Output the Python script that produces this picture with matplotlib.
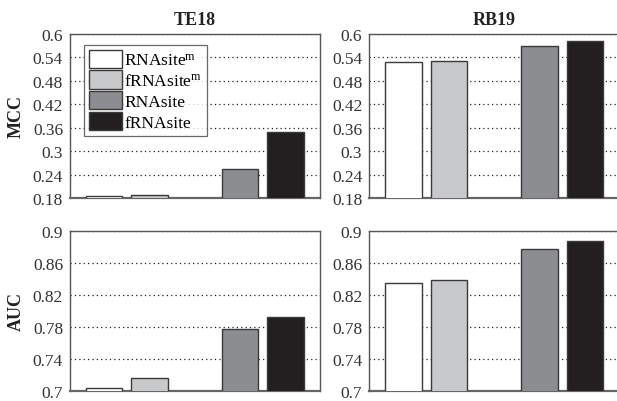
import matplotlib
matplotlib.use("Agg")
import matplotlib.pyplot as plt

plt.rcParams['font.family'] = ['Liberation Serif', 'DejaVu Serif']
plt.rcParams['mathtext.fontset'] = 'custom'
plt.rcParams['mathtext.rm'] = 'Liberation Serif'
plt.rcParams['mathtext.it'] = 'Liberation Serif:italic'
plt.rcParams['mathtext.bf'] = 'Liberation Serif:bold'

methods = [r'RNAsite$^{\mathrm{m}}$', r'fRNAsite$^{\mathrm{m}}$', 'RNAsite', 'fRNAsite']
positions = [1, 2, 4, 5]
colors = ['#ffffff', '#c8c9cb', '#8c8d90', '#231f20']
datasets = ['TE18', 'RB19']

mcc_te18 = [0.186, 0.188, 0.254, 0.350]
mcc_rb19 = [0.528, 0.530, 0.568, 0.583]
auc_te18 = [0.7037, 0.716, 0.777, 0.793]
auc_rb19 = [0.835, 0.839, 0.878, 0.887]

mcc_ticks = [0.18, 0.24, 0.3, 0.36, 0.42, 0.48, 0.54, 0.6]
mcc_ticklabels = ['0.18', '0.24', '0.3', '0.36', '0.42', '0.48', '0.54', '0.6']
auc_ticks = [0.7, 0.74, 0.78, 0.82, 0.86, 0.9]
auc_ticklabels = ['0.7', '0.74', '0.78', '0.82', '0.86', '0.9']

W, H = 617, 402
fig = plt.figure(figsize=(W / 100, H / 100), dpi=100)

def px_axes(x0, y0, x1, y1):
    return fig.add_axes([x0 / W, 1 - y1 / H, (x1 - x0) / W, (y1 - y0) / H])

rows = [
    ('MCC', [mcc_te18, mcc_rb19], mcc_ticks, mcc_ticklabels, 35, 199),
    ('AUC', [auc_te18, auc_rb19], auc_ticks, auc_ticklabels, 232, 392),
]
lefts = [(70, 319.5), (369.3, 619)]

for r, (metric, vals_list, ticks, ticklabels, yt, yb) in enumerate(rows):
    for c, vals in enumerate(vals_list):
        x0, x1 = lefts[c]
        ax = px_axes(x0, yt, x1, yb)
        bars = ax.bar(positions, vals, width=0.8, color=colors,
                      edgecolor='#3a3a3a', linewidth=1.0, zorder=3)
        ax.set_xlim(0.25, 5.75)
        ax.set_ylim(ticks[0], ticks[-1])
        ax.set_yticks(ticks)
        ax.set_yticklabels(ticklabels, fontsize=12.5, color='#333333')
        ax.set_xticks([])
        ax.tick_params(axis='y', length=0, pad=5)
        ax.yaxis.grid(True, linestyle=(0, (1, 2.5)), color='#222222', linewidth=0.9, zorder=0)
        for s in ax.spines.values():
            s.set_color('#555555')
            s.set_linewidth(1.0)
        ax.spines['bottom'].set_linewidth(1.6)
        ax.spines['bottom'].set_color('#666666')
        if c == 0:
            ax.set_ylabel(metric, fontsize=13, fontweight='bold', labelpad=6, color='#222222')
        if r == 0:
            ax.set_title(datasets[c], fontsize=13, fontweight='bold', pad=7, color='#222222')
        if r == 0 and c == 0:
            leg = ax.legend(bars, methods, loc='upper left', bbox_to_anchor=(0.056, 0.935),
                            fontsize=12.5, frameon=True, fancybox=False,
                            handlelength=1.9, handleheight=1.25, handletextpad=0.15,
                            labelspacing=0.1, borderpad=0.28, borderaxespad=0.0)
            leg.get_frame().set_edgecolor('#444444')
            leg.get_frame().set_linewidth(0.9)
            leg.set_zorder(5)

fig.savefig('out.png', dpi=100)
